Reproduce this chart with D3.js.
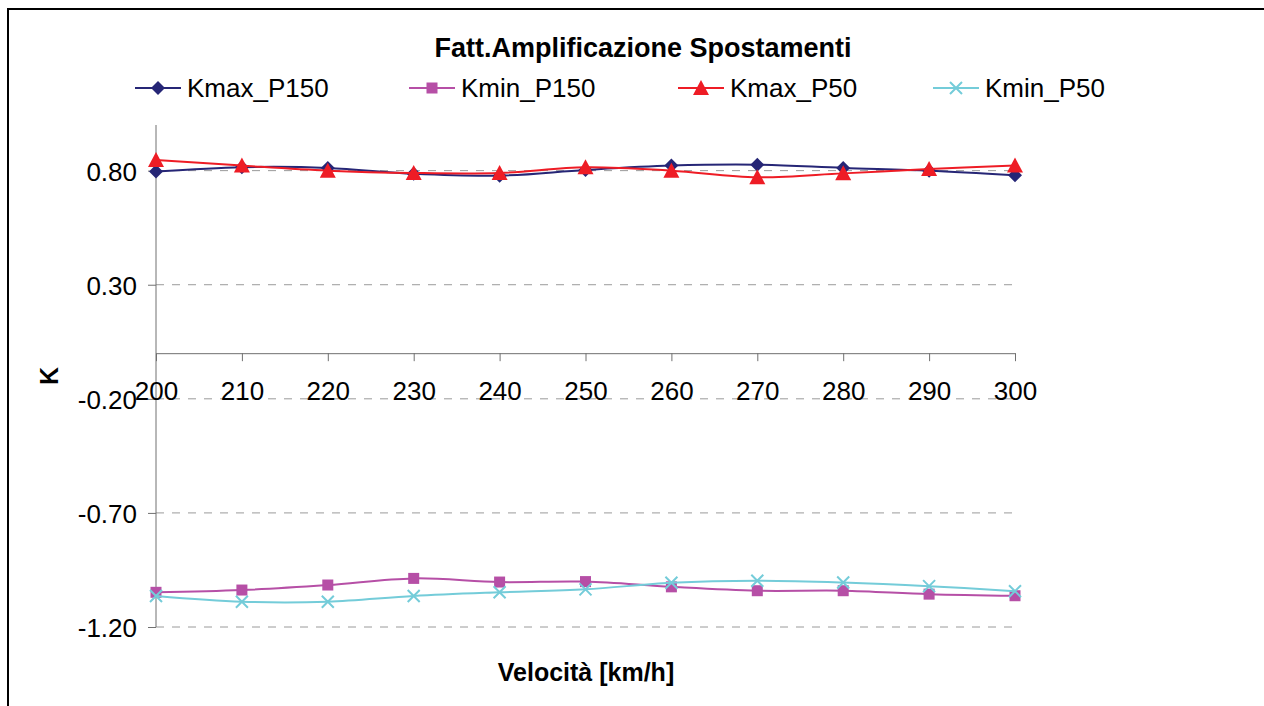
<!DOCTYPE html>
<html>
<head>
<meta charset="utf-8">
<script src="https://d3js.org/d3.v7.min.js"></script>
<style>
body { margin: 0; background: #fff; font-family: 'Liberation Sans', Arial, sans-serif; }
svg { display: block; }
</style>
</head>
<body>
<svg width="1264" height="706"></svg>
<script>
// speeds (km/h) on the x axis
var speeds = [200, 210, 220, 230, 240, 250, 260, 270, 280, 290, 300];

// the four series
var kmaxP150 = [0.796, 0.815, 0.812, 0.786, 0.778, 0.803, 0.822, 0.826, 0.812, 0.800, 0.780];
var kminP150 = [-1.048, -1.038, -1.016, -0.987, -1.003, -1.001, -1.024, -1.041, -1.041, -1.056, -1.063];
var kmaxP50 = [0.847, 0.822, 0.800, 0.790, 0.790, 0.815, 0.800, 0.771, 0.788, 0.807, 0.822];
var kminP50 = [-1.064, -1.089, -1.089, -1.064, -1.048, -1.035, -1.006, -0.997, -1.005, -1.021, -1.043];

var yTicks = [-1.2, -0.7, -0.2, 0.3, 0.8];

var series = [
  { name: "Kmax_P150", values: kmaxP150, color: "#262676", marker: "diamond" },
  { name: "Kmin_P150", values: kminP150, color: "#B64FA6", marker: "square" },
  { name: "Kmax_P50", values: kmaxP50, color: "#EE1C25", marker: "triangle" },
  { name: "Kmin_P50", values: kminP50, color: "#74CCD9", marker: "cross" }
];

var FONT = "'Liberation Sans', Arial, sans-serif";
var svg = d3.select("svg").attr("font-family", FONT);

// outer chart frame (only top and left visible in the window)
svg.append("rect")
  .attr("x", 8).attr("y", 9)
  .attr("width", 1400).attr("height", 900)
  .attr("fill", "none").attr("stroke", "#000").attr("stroke-width", 2);

var x = d3.scaleLinear().domain([200, 300]).range([156, 1015]);
var y = d3.scaleLinear().domain([-1.2, 1.0]).range([627, 125]);

// dashed gridlines
svg.append("g").selectAll("line")
  .data(yTicks)
  .join("line")
  .attr("x1", x(200)).attr("x2", x(300))
  .attr("y1", d => y(d)).attr("y2", d => y(d))
  .attr("stroke", "#9a9a9a").attr("stroke-width", 1)
  .attr("stroke-dasharray", "8,8");

// y axis
var yAxis = d3.axisLeft(y).tickValues(yTicks).tickSize(8);
var gy = svg.append("g").attr("transform", "translate(" + x(200) + ",0)").call(yAxis);
gy.select(".domain").attr("stroke", "#707070").attr("d", "M0," + y(1.0) + "V" + y(-1.2));
gy.selectAll(".tick line").attr("stroke", "#707070").attr("x1", 0).attr("x2", -8);
gy.selectAll(".tick text")
  .attr("x", -19).attr("dy", "0.36em")
  .attr("font-family", FONT)
  .attr("font-size", 26).attr("fill", "#000")
  .text(d => d3.format(".2f")(d).replace("\u2212", "-"));

// x axis through zero
var xAxis = d3.axisBottom(x).tickValues(speeds).tickSize(8).tickSizeOuter(0);
var gx = svg.append("g").attr("transform", "translate(0," + y(0) + ")").call(xAxis);
gx.select(".domain").attr("stroke", "#707070");
gx.selectAll(".tick line").attr("stroke", "#707070");
gx.selectAll(".tick text")
  .attr("y", 28)
  .attr("font-family", FONT)
  .attr("font-size", 26).attr("fill", "#000");

// marker shapes
function drawMarker(g, type, color) {
  if (type === "diamond") {
    g.append("path").attr("d", "M0,-7L7,0L0,7L-7,0Z").attr("fill", color);
  } else if (type === "square") {
    g.append("rect").attr("x", -5.5).attr("y", -5.5).attr("width", 11).attr("height", 11).attr("fill", color);
  } else if (type === "triangle") {
    g.append("path").attr("d", "M0,-8L8,7L-8,7Z").attr("fill", color);
  } else {
    g.append("path").attr("d", "M-6,-6L6,6M6,-6L-6,6").attr("stroke", color).attr("stroke-width", 2).attr("fill", "none");
  }
}

var line = d3.line()
  .x((d, i) => x(speeds[i]))
  .y(d => y(d))
  .curve(d3.curveCatmullRom.alpha(0));

series.forEach(function (s) {
  svg.append("path")
    .datum(s.values)
    .attr("d", line)
    .attr("fill", "none")
    .attr("stroke", s.color)
    .attr("stroke-width", 2);
  s.values.forEach(function (v, i) {
    var g = svg.append("g").attr("transform", "translate(" + x(speeds[i]) + "," + y(v) + ")");
    drawMarker(g, s.marker, s.color);
  });
});

// title
svg.append("text")
  .attr("x", 643).attr("y", 57)
  .attr("text-anchor", "middle")
  .attr("font-size", 27).attr("font-weight", "bold")
  .text("Fatt.Amplificazione Spostamenti");

// legend
var legendX = [135, 409, 678, 933];
series.forEach(function (s, i) {
  var lg = svg.append("g").attr("transform", "translate(" + legendX[i] + ",88)");
  lg.append("line").attr("x1", 0).attr("x2", 46).attr("stroke", s.color).attr("stroke-width", 2);
  drawMarker(lg.append("g").attr("transform", "translate(23,0)"), s.marker, s.color);
  lg.append("text")
    .attr("x", 52).attr("y", 9)
    .attr("font-size", 26)
    .text(s.name);
});

// axis titles
svg.append("text")
  .attr("x", 586).attr("y", 681)
  .attr("text-anchor", "middle")
  .attr("font-size", 25).attr("font-weight", "bold")
  .text("Velocità [km/h]");

svg.append("text")
  .attr("transform", "translate(58,376) rotate(-90)")
  .attr("text-anchor", "middle")
  .attr("font-size", 25).attr("font-weight", "bold")
  .text("K");
</script>
</body>
</html>
